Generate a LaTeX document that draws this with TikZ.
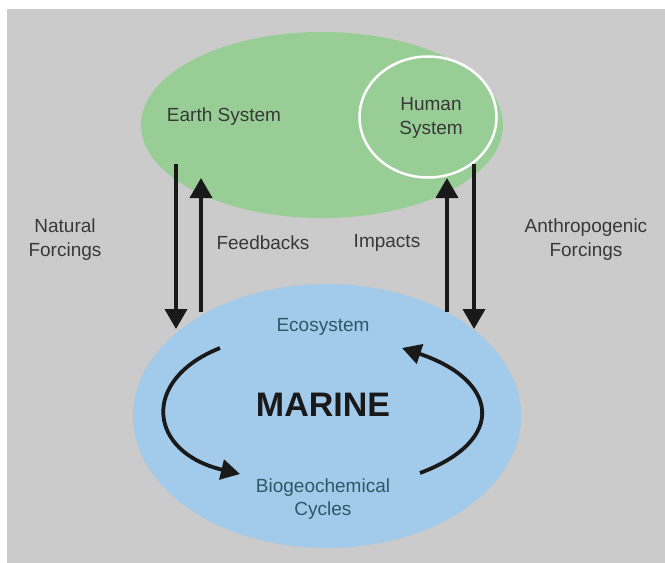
\documentclass[tikz,border=0pt]{standalone}
\usepackage{fontspec}
\setmainfont{Liberation Sans}
\usetikzlibrary{shapes.geometric,arrows.meta}
\definecolor{bggray}{HTML}{CBCBCB}
\definecolor{earthgreen}{HTML}{98CE96}
\definecolor{marineblue}{HTML}{A2CAEA}
\definecolor{txtgray}{HTML}{383838}
\definecolor{tealtxt}{HTML}{2D5866}
\tikzset{
  lbl/.style={font=\fontsize{19}{24}\selectfont, text=txtgray, align=center, inner sep=0pt},
  innerlbl/.style={font=\fontsize{19}{23}\selectfont, text=tealtxt, align=center, inner sep=0pt},
  bigarrow/.style={line width=3.8pt, -{Triangle[width=22pt,length=20pt]}, black!90},
  cyclearrow/.style={line width=3.8pt, -{Triangle[width=20pt,length=19pt]}, black!90},
}
\begin{document}
\begin{tikzpicture}[x=1pt,y=-1pt]
\useasboundingbox (0,0) rectangle (665,563);
\fill[white] (0,0) rectangle (665,563);
\fill[bggray] (7,9) rectangle (665,563);
% ellipses
\node[ellipse, fill=earthgreen, minimum width=362pt, minimum height=186pt, inner sep=0pt] (earth) at (322,125) {};
\node[ellipse, draw=white, line width=2.5pt, fill=earthgreen, minimum width=137pt, minimum height=121pt, inner sep=0pt] (human) at (428,117) {};
\node[ellipse, fill=marineblue, minimum width=388pt, minimum height=264pt, inner sep=0pt] (marine) at (327,416) {};
% texts
\node[lbl] (earthtxt) at (224,117) {Earth System};
\node[lbl] (humantxt) at (431,118) {Human\\System};
\node[lbl] (natural) at (65,240) {Natural\\Forcings};
\node[lbl] (feedback) at (263,243) {Feedbacks};
\node[lbl] (impacts) at (387,243) {Impacts};
\node[lbl] (anthro) at (586,240) {Anthropogenic\\Forcings};
\node[innerlbl] (eco) at (323,327) {Ecosystem};
\node[font=\fontsize{34}{34}\selectfont\bfseries, text=black!90, inner sep=0pt] (marinetxt) at (323,405) {MARINE};
\node[innerlbl] (bgc) at (323,499) {Biogeochemical\\Cycles};
% arrow endpoints
\coordinate (nfA) at (176,164);
\coordinate (nfB) at (176,329);
\coordinate (fbA) at (201,312);
\coordinate (fbB) at (201,178);
\coordinate (imA) at (447,312);
\coordinate (imB) at (447,178);
\coordinate (afA) at (474,164);
\coordinate (afB) at (474,329);
\draw[bigarrow] (nfA) -- (nfB);
\draw[bigarrow] (fbA) -- (fbB);
\draw[bigarrow] (imA) -- (imB);
\draw[bigarrow] (afA) -- (afB);
% cycle arrows
\coordinate (c1A) at (220,348);
\coordinate (c1B) at (240,474);
\coordinate (c2A) at (420,473);
\coordinate (c2B) at (402,348);
\draw[cyclearrow] (c1A) .. controls (140,380) and (148,452) .. (c1B);
\draw[cyclearrow] (c2A) .. controls (508,440) and (498,380) .. (c2B);
\end{tikzpicture}
\end{document}
